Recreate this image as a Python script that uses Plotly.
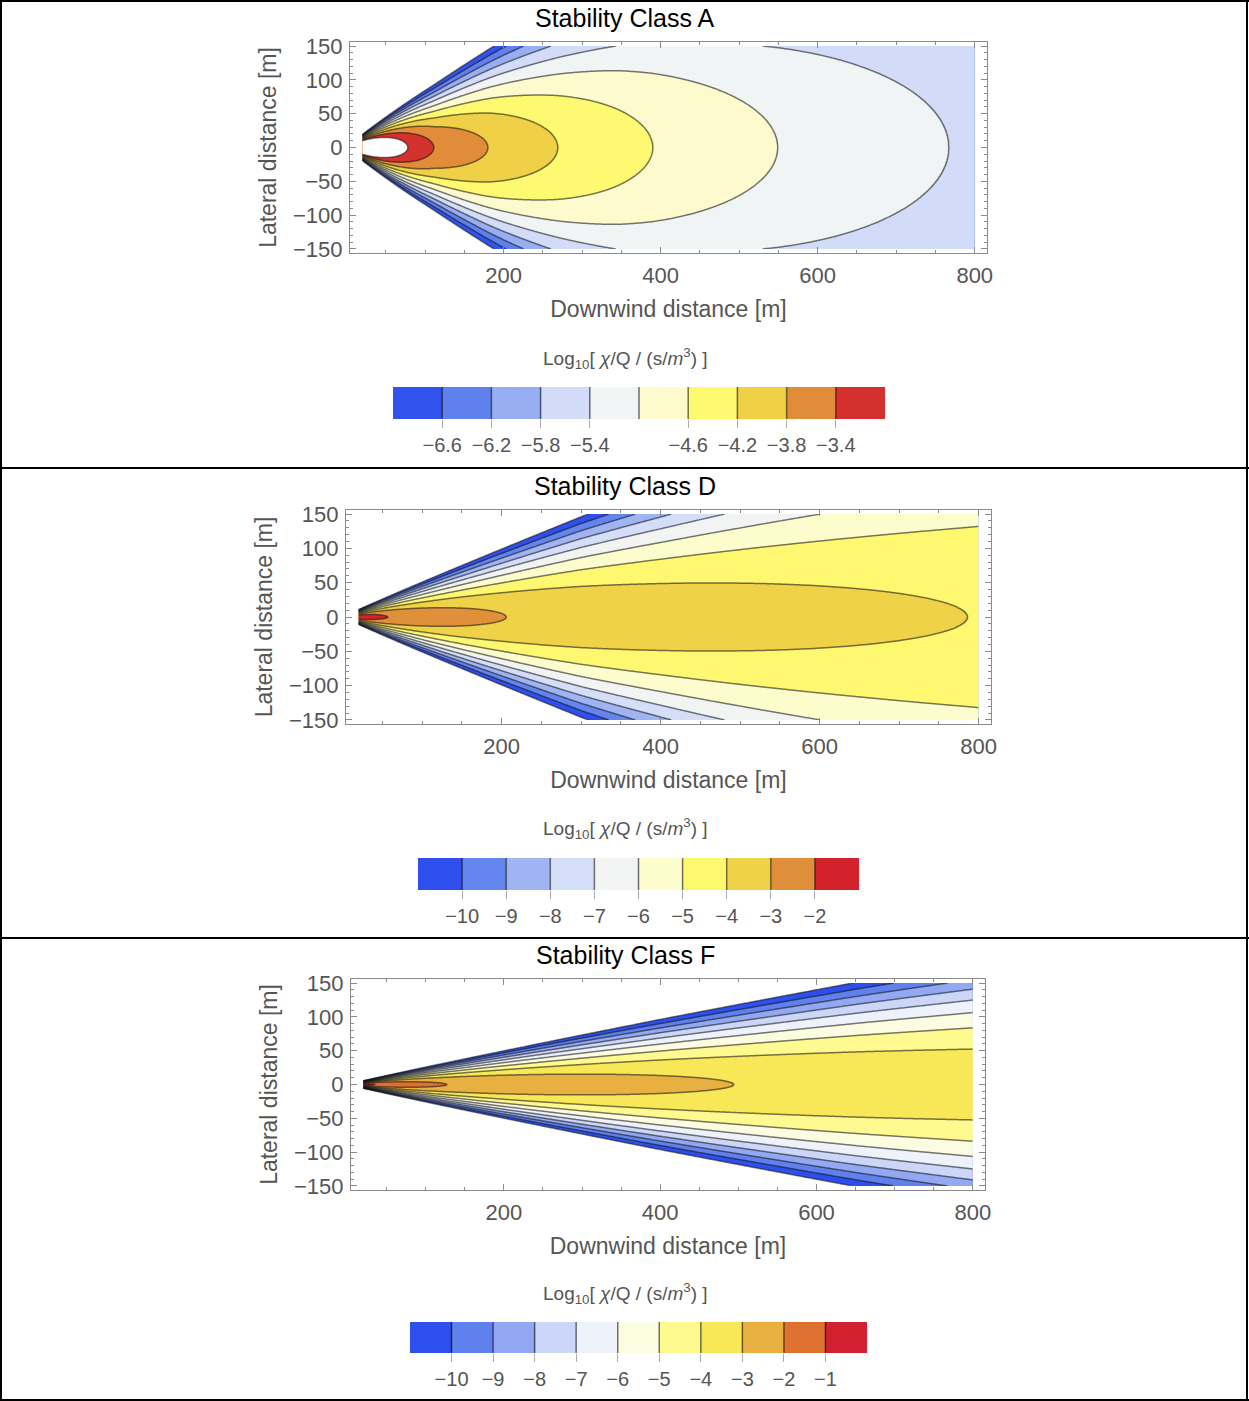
import numpy as np
import plotly.graph_objects as go

W, H = 1249, 1401

# ---------------- values ----------------
# contour levels (log10 chi/Q) and colour of each band
A_levels = [-7.0, -6.6, -6.2, -5.8, -5.4, -5.0, -4.6, -4.2, -3.8, -3.4, -3.0]
A_tickvals = [-6.6, -6.2, -5.8, -5.4, -4.6, -4.2, -3.8, -3.4]
A_colors = ['#3254ee', '#6080ee', '#98aef2', '#d2dcf8', '#f1f4f5',
            '#fdfbcd', '#fdf970', '#f0d046', '#e08c38', '#d3302e']

D_levels = [-11, -10, -9, -8, -7, -6, -5, -4, -3, -2, -1]
D_tickvals = [-10, -9, -8, -7, -6, -5, -4, -3, -2]
D_colors = ['#2f50ee', '#6585ee', '#a0b4f4', '#d4def8', '#f2f4f4',
            '#fcfccc', '#fef870', '#f0d248', '#e0903a', '#d3222b']

F_levels = [-11, -10, -9, -8, -7, -6, -5, -4, -3, -2, -1, 0]
F_tickvals = [-10, -9, -8, -7, -6, -5, -4, -3, -2, -1]
F_colors = ['#2d4fee', '#6080ee', '#92a8f2', '#cbd6f8', '#eef3fb',
            '#fcfce0', '#fefa90', '#f8e858', '#e8b040', '#de7030', '#d32030']

# centreline log10(chi/Q) read along y = 0 (where contour levels cross the axis)
A_center_x = [20, 78, 111, 180, 269, 390, 549, 767, 800]
A_center_logc = [-1.5, -3.0, -3.4, -3.8, -4.2, -4.6, -5.0, -5.4, -5.45]
D_center_x = [20, 57, 206, 786, 800]
D_center_logc = [-1.2, -2.0, -3.0, -4.0, -4.01]
F_center_x = [20, 35, 127, 494, 800]
F_center_logc = [-0.6, -1.0, -2.0, -3.0, -3.36]

A_sigma_x = [20, 200, 345, 531, 800]
A_sigma_m = [3.8, 42.0, 72.6, 105.4, 155.0]
D_sigma_x = [20, 300, 400, 800]
D_sigma_m = [1.6, 24.5, 32.0, 61.9]
F_sigma_x = [20, 400, 656, 800]
F_sigma_m = [0.8, 15.7, 25.4, 30.5]

x_ticks = [200, 400, 600, 800]
y_ticks = [-150, -100, -50, 0, 50, 100, 150]
x_data_range = [20, 800]
y_data_range = [-150, 150]

titles = ['Stability Class A', 'Stability Class D', 'Stability Class F']
x_title = 'Downwind distance [m]'
y_title = 'Lateral distance [m]'
cb_title = 'Log<sub>10</sub>[ <i>χ</i>/Q / (s/<i>m</i><sup>3</sup>) ]'

# ---------------- layout geometry (pixels) ----------------
panels = [
    dict(frame=(350, 987, 42, 253), title_y=18, cbt=(625, 358), bar=(393, 885, 387, 419)),
    dict(frame=(346, 991, 510, 724), title_y=486, cbt=(625, 829), bar=(418, 859, 858, 890)),
    dict(frame=(351, 985, 979, 1190), title_y=955, cbt=(625, 1293), bar=(410, 867, 1322, 1353)),
]
series = [
    (A_levels, A_tickvals, A_colors, A_center_x, A_center_logc, A_sigma_x, A_sigma_m),
    (D_levels, D_tickvals, D_colors, D_center_x, D_center_logc, D_sigma_x, D_sigma_m),
    (F_levels, F_tickvals, F_colors, F_center_x, F_center_logc, F_sigma_x, F_sigma_m),
]

TICK_GRAY = '#555555'
FRAME_GRAY = '#8a8a8a'
FONT = 'Liberation Sans, Arial, sans-serif'


def fx(p):
    return p / W


def fy(p):
    return 1 - p / H


def fill_colorscale(colors):
    full = ['#ffffff'] + list(colors) + ['#ffffff']
    m = len(full) - 1
    cs = []
    for j, c in enumerate(full):
        cs.append([max(0.0, (j - 0.5) / m), c])
        cs.append([min(1.0, (j + 0.5) / m), c])
    return cs


def bar_colorscale(colors):
    n = len(colors)
    cs = []
    for j, c in enumerate(colors):
        cs.append([j / n, c])
        cs.append([(j + 1) / n, c])
    return cs


def fmt(v):
    s = ('%g' % abs(v))
    return ('\u2212' + s) if v < 0 else s


xg = np.linspace(x_data_range[0], x_data_range[1], 391)
yg = np.linspace(y_data_range[0], y_data_range[1], 601)

fig = go.Figure()
layout = dict(width=W, height=H, margin=dict(l=0, r=0, t=0, b=0),
              paper_bgcolor='white', plot_bgcolor='white', showlegend=False,
              hovermode=False, font=dict(family=FONT, size=20))
annotations = []

pad_x = 0.02 * (x_data_range[1] - x_data_range[0])
pad_y = 0.02 * (y_data_range[1] - y_data_range[0])

for i, (pan, ser) in enumerate(zip(panels, series)):
    levels, tickvals, colors, cx, cl, sx, sm = ser
    k = i + 1
    kc = i + 4
    # field from the read centreline values and spreads (Gaussian across wind)
    logc = np.interp(np.log10(xg), np.log10(cx), cl)
    sig = 10 ** np.interp(np.log10(xg), np.log10(sx), np.log10(sm))
    Z = logc[None, :] - np.log10(np.e) * yg[:, None] ** 2 / (2 * sig[None, :] ** 2)
    Z = np.round(np.maximum(Z, -30), 3)
    step = levels[1] - levels[0]
    fig.add_trace(go.Contour(
        x=xg, y=yg, z=Z, xaxis='x%d' % k, yaxis='y%d' % k,
        autocontour=False,
        contours=dict(start=levels[0], end=levels[-1], size=step,
                      coloring='fill', showlines=True),
        line=dict(color='rgba(20,20,20,0.58)', width=1.5, smoothing=1),
        colorscale=fill_colorscale(colors), showscale=False, hoverinfo='skip'))

    l, r, t, b = pan['frame']
    common_axis = dict(showline=True, linecolor=FRAME_GRAY, linewidth=1.2, mirror='allticks',
                       ticks='inside', tickcolor=FRAME_GRAY, showgrid=False, zeroline=False,
                       automargin=False,
                       tickfont=dict(size=22, color=TICK_GRAY, family=FONT))
    layout['xaxis%d' % k] = dict(common_axis, domain=[fx(l), fx(r)], anchor='y%d' % k,
                                 range=[x_data_range[0] - pad_x, x_data_range[1] + pad_x],
                                 tickvals=x_ticks, ticklen=6, ticklabelstandoff=2,
                                 minor=dict(dtick=50, tick0=0, ticklen=3, ticks='inside',
                                            tickcolor=FRAME_GRAY),
                                 title=dict(text=x_title, standoff=14,
                                            font=dict(size=23, color=TICK_GRAY, family=FONT)))
    layout['yaxis%d' % k] = dict(common_axis, domain=[fy(b), fy(t)], anchor='x%d' % k,
                                 range=[y_data_range[0] - pad_y, y_data_range[1] + pad_y],
                                 tickvals=y_ticks, ticklen=6, ticklabelstandoff=2,
                                 minor=dict(dtick=10, tick0=0, ticklen=3, ticks='inside',
                                            tickcolor=FRAME_GRAY),
                                 title=dict(text=y_title, standoff=9,
                                            font=dict(size=23, color=TICK_GRAY, family=FONT)))

    # colour legend bar on its own axes
    n = len(colors)
    fig.add_trace(go.Heatmap(
        x=levels, y=[0, 1], z=[list(range(n))], zmin=-0.5, zmax=n - 0.5,
        colorscale=bar_colorscale(colors), showscale=False, hoverinfo='skip',
        xaxis='x%d' % kc, yaxis='y%d' % kc))
    sepx, sepy = [], []
    for lv in levels[1:-1]:
        sepx += [lv, lv, None]
        sepy += [0, 1, None]
    fig.add_trace(go.Scatter(x=sepx, y=sepy, mode='lines', hoverinfo='skip',
                             line=dict(color='rgba(0,0,0,0.55)', width=1.5),
                             xaxis='x%d' % kc, yaxis='y%d' % kc))
    bl, br, bt, bb = pan['bar']
    layout['xaxis%d' % kc] = dict(domain=[fx(bl), fx(br)], anchor='y%d' % kc,
                                  range=[levels[0], levels[-1]], showgrid=False, zeroline=False,
                                  showline=False, ticks='outside', ticklen=8, tickcolor='#aaaaaa',
                                  tickvals=tickvals, ticktext=[fmt(v) for v in tickvals],
                                  tickfont=dict(size=20, color=TICK_GRAY, family=FONT),
                                  ticklabelstandoff=0, automargin=False)
    layout['yaxis%d' % kc] = dict(domain=[fy(bb), fy(bt)], anchor='x%d' % kc,
                                  range=[0, 1], visible=False)

    # texts
    annotations.append(dict(text=titles[i], x=fx(625), y=fy(pan['title_y']), xref='paper',
                            yref='paper', showarrow=False, xanchor='center', yanchor='middle',
                            font=dict(size=25, color='black', family=FONT)))
    annotations.append(dict(text=cb_title, x=fx(pan['cbt'][0]), y=fy(pan['cbt'][1]), xref='paper',
                            yref='paper', showarrow=False, xanchor='center', yanchor='middle',
                            font=dict(size=19, color=TICK_GRAY, family=FONT)))

# table-like borders around the three panels
shapes = []
for yp in [1, 468, 938, 1400]:
    shapes.append(dict(type='line', xref='paper', yref='paper', x0=0, x1=1,
                       y0=fy(yp), y1=fy(yp), line=dict(color='black', width=2)))
for xp in [1, 1247]:
    shapes.append(dict(type='line', xref='paper', yref='paper', x0=fx(xp), x1=fx(xp),
                       y0=0, y1=1, line=dict(color='black', width=2)))

layout['annotations'] = annotations
layout['shapes'] = shapes
fig.update_layout(**layout)
fig.write_html('out.html',
               post_script="document.body.style.margin='0px';"
                           "document.documentElement.style.overflow='hidden';")
